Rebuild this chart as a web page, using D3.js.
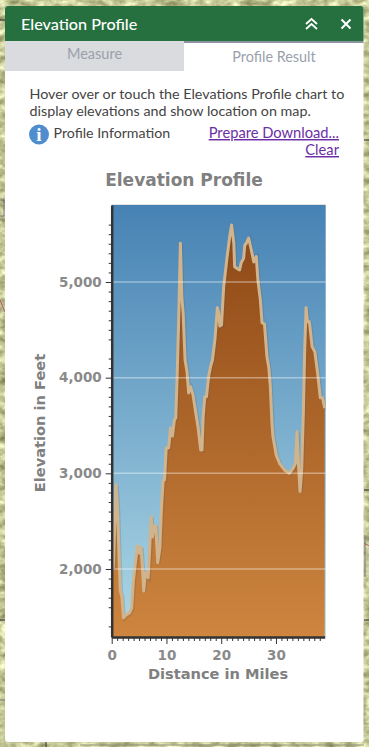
<!DOCTYPE html>
<html>
<head>
<meta charset="utf-8">
<script src="https://d3js.org/d3.v7.min.js"></script>
<style>
    html, body { margin: 0; padding: 0; background: #c8c79c; overflow: hidden; }
    svg { display: block; }
    .ui { font-family: Lato, sans-serif; }
    .chart-text { font-family: "DejaVu Sans", sans-serif; font-weight: bold; fill: #808080; }
    .axis path, .axis line { stroke: #333; }
    .axis text { font-family: "DejaVu Sans", sans-serif; font-weight: bold; font-size: 13.5px; fill: #8a8a8a; }
</style>
</head>
<body>
<svg id="panel" width="369" height="747"></svg>
<script>
const miles = [0, 0.3, 0.8, 1.05, 1.55, 1.85, 2.15, 2.65, 3.25, 3.65, 3.95, 4.25, 4.7, 5.05, 5.35, 5.6, 5.85, 6.15, 6.65, 6.9,
    7.2, 7.45, 7.75, 8.05, 8.4, 8.8, 9.1, 9.4, 9.65, 9.95, 10.4, 10.75, 11.1, 11.45, 11.7, 11.95, 12.25, 12.55, 12.8, 13.05,
    13.4, 13.75, 14.05, 14.4, 14.85, 15.35, 15.75, 16.25, 16.5, 16.7, 17, 17.3, 17.7, 18.05, 18.4, 18.85, 19.3, 19.55, 19.75, 20.05,
    20.45, 20.8, 21.05, 21.55, 21.9, 22.3, 22.45, 23.05, 23.35, 23.65, 24.1, 24.3, 24.6, 25, 25.5, 25.95, 26.4, 26.7, 27.15, 27.45,
    27.9, 28.35, 28.7, 28.95, 29.3, 29.45, 30.05, 30.65, 31.55, 32.45, 33.15, 33.55, 33.85, 34.1, 34.4, 34.7, 35, 35.25, 35.5, 35.75,
    36.1, 36.6, 37.1, 37.6, 38.1, 38.5, 38.9];
const elevations = [2020, 2020, 2880, 2650, 1780, 1710, 1490, 1520, 1540, 1590, 1870, 2025, 2240, 2165, 2230, 2025, 1770, 1960, 1910, 2165,
    2545, 2335, 2450, 2450, 2065, 2220, 2650, 2930, 2930, 3265, 3265, 3475, 3390, 3560, 3580, 4010, 4640, 5405, 4845, 4675,
    4185, 4065, 3840, 3905, 3820, 3630, 3490, 3245, 3245, 3590, 3800, 3800, 4010, 4115, 4185, 4395, 4730, 4675, 4540, 4550,
    4950, 5125, 5250, 5475, 5595, 5405, 5160, 5135, 5125, 5200, 5250, 5385, 5405, 5460, 5335, 5210, 5265, 5020, 4810, 4575,
    4560, 4220, 4100, 3925, 3490, 3385, 3190, 3105, 3035, 3000, 3055, 3105, 3435, 3105, 2810, 3035, 3630, 4290, 4730, 4585,
    4585, 4325, 4270, 4050, 3790, 3790, 3680];
const yTicks = [2000, 3000, 4000, 5000];
const xTicks = [0, 10, 20, 30];
const yMinorSkipped = [1500, 4300];

const chart = { left: 111.7, right: 324.7, top: 205, bottom: 637 };

const svg = d3.select("#panel");
const defs = svg.append("defs");

// map behind the panel, one noise channel so it stays khaki
const mapFilter = defs.append("filter").attr("id", "mapTexture")
    .attr("x", 0).attr("y", 0).attr("width", "100%").attr("height", "100%")
    .attr("color-interpolation-filters", "sRGB");
mapFilter.append("feTurbulence").attr("type", "fractalNoise").attr("baseFrequency", "0.09 0.14").attr("numOctaves", 3).attr("seed", 11);
mapFilter.append("feColorMatrix").attr("values", "0.7 0 0 0 0.42  0.7 0 0 0 0.43  0.7 0 0 0 0.24  0 0 0 0 1");
svg.append("rect").attr("width", 369).attr("height", 747).attr("filter", "url(#mapTexture)");

const mapLines = [
    ["M0 20H5", "#222"], ["M0 200H4V216H0", "#777"], ["M0 300L5 312", "#b9586a"], ["M0 620H5", "#222"], ["M0 700H5", "#777"],
    ["M364 140H369", "#222"], ["M364 490H369", "#222"], ["M364 620H369", "#222"],
    ["M364 543L369 546", "#c0525a"], ["M365 535V577", "#777"], ["M46 742V747", "#222"], ["M80 745H364", "#8a8a78"]
];
svg.selectAll(".map-line").data(mapLines).enter().append("path")
    .attr("class", "map-line")
    .attr("d", d => d[0])
    .attr("fill", "none")
    .attr("stroke", d => d[1]);

// panel
svg.append("rect").attr("x", 5).attr("y", 6).attr("width", 358.5).attr("height", 736).attr("rx", 3).attr("fill", "white");
svg.append("path").attr("d", "M5 41V9a3 3 0 0 1 3-3H360.5a3 3 0 0 1 3 3V41Z").attr("fill", "#26703f");
svg.append("rect").attr("x", 5).attr("y", 41).attr("width", 179).attr("height", 30).attr("fill", "#d9dbde");
svg.append("rect").attr("x", 184).attr("y", 41).attr("width", 179.5).attr("height", 2).attr("fill", "#8a939f");

svg.append("text").attr("class", "ui").attr("x", 21).attr("y", 29.5)
    .attr("font-size", 16.2).attr("fill", "white").attr("font-weight", 500).text("Elevation Profile");
svg.append("path").attr("d", "M306 24l5.5-5 5.5 5M306 29l5.500-5 5.5 5").attr("fill", "none").attr("stroke", "white").attr("stroke-width", 1.8);
svg.append("path").attr("d", "M341.5 19.5l9 9M350.5 19.5l-9 9").attr("fill", "none").attr("stroke", "white").attr("stroke-width", 2);

svg.append("text").attr("class", "ui").attr("x", 94.5).attr("y", 59).attr("text-anchor", "middle")
    .attr("font-size", 14.5).attr("fill", "#9aa1ab").text("Measure");
svg.append("text").attr("class", "ui").attr("x", 274).attr("y", 62).attr("text-anchor", "middle")
    .attr("font-size", 14.4).attr("fill", "#9aa1ab").text("Profile Result");

const bodyLines = [
    ["Hover over or touch the Elevations Profile chart to", 99],
    ["display elevations and show location on map.", 116]
];
svg.selectAll(".body-line").data(bodyLines).enter().append("text")
    .attr("class", "ui body-line")
    .attr("x", 29.5)
    .attr("y", d => d[1])
    .attr("font-size", 14.3)
    .attr("fill", "#444")
    .text(d => d[0]);

svg.append("circle").attr("cx", 39).attr("cy", 134.5).attr("r", 10).attr("fill", "#4f8dcf");
svg.append("text").attr("x", 39).attr("y", 141).attr("text-anchor", "middle")
    .attr("font-family", "Liberation Serif").attr("font-weight", "bold").attr("font-size", 19).attr("fill", "white").text("i");
svg.append("text").attr("class", "ui").attr("x", 53.5).attr("y", 138)
    .attr("font-size", 14.2).attr("fill", "#444").text("Profile Information");

const links = [["Prepare Download...", 138], ["Clear", 155]];
svg.selectAll(".link").data(links).enter().append("text")
    .attr("class", "ui link")
    .attr("x", 339)
    .attr("y", d => d[1])
    .attr("text-anchor", "end")
    .attr("font-size", 14.7)
    .attr("fill", "#6b2fa5")
    .style("text-decoration", "underline")
    .text(d => d[0]);

// chart
const xScale = d3.scaleLinear().domain([0, 38.9]).range([chart.left, chart.right]);
const yScale = d3.scaleLinear().domain([1289, 5805]).range([chart.bottom, chart.top]);

const skyGradient = defs.append("linearGradient").attr("id", "sky").attr("gradientUnits", "userSpaceOnUse")
    .attr("x1", 0).attr("x2", 0).attr("y1", chart.top).attr("y2", chart.bottom);
skyGradient.append("stop").attr("offset", 0).attr("stop-color", "#4682b4");
skyGradient.append("stop").attr("offset", 1).attr("stop-color", "#add8e6");

const landGradient = defs.append("linearGradient").attr("id", "land").attr("gradientUnits", "userSpaceOnUse")
    .attr("x1", 0).attr("x2", 0).attr("y1", chart.top).attr("y2", chart.bottom);
landGradient.append("stop").attr("offset", 0).attr("stop-color", "#8b4513");
landGradient.append("stop").attr("offset", 1).attr("stop-color", "#cd853f");

defs.append("clipPath").attr("id", "plotClip").append("rect")
    .attr("x", chart.left).attr("y", chart.top).attr("width", chart.right - chart.left + 1).attr("height", chart.bottom - chart.top);

svg.append("rect")
    .attr("x", chart.left).attr("y", chart.top)
    .attr("width", chart.right - chart.left + 1).attr("height", chart.bottom - chart.top)
    .attr("fill", "url(#sky)");
svg.append("line")
    .attr("x1", chart.left).attr("x2", chart.right + 1).attr("y1", chart.top - 0.5).attr("y2", chart.top - 0.5)
    .attr("stroke", "#e2e2e2");

const profile = d3.range(miles.length).map(i => ({ mile: miles[i], elevation: elevations[i] }));

const plot = svg.append("g").attr("clip-path", "url(#plotClip)");

plot.append("path").datum(profile)
    .attr("fill", "url(#land)")
    .attr("d", d3.area().x(d => xScale(d.mile)).y0(chart.bottom).y1(d => yScale(d.elevation)));

// soft shadow on the right of the line
plot.append("path").datum(profile)
    .attr("fill", "none")
    .attr("stroke", "#555")
    .attr("stroke-opacity", 0.22)
    .attr("stroke-width", 3)
    .attr("transform", "translate(1.2,1)")
    .attr("d", d3.line().x(d => xScale(d.mile)).y(d => yScale(d.elevation)));

plot.append("path").datum(profile)
    .attr("fill", "none")
    .attr("stroke", "#d2b48c")
    .attr("stroke-width", 3)
    .attr("stroke-linejoin", "round")
    .attr("d", d3.line().x(d => xScale(d.mile)).y(d => yScale(d.elevation)));

svg.selectAll(".grid-line").data(yTicks).enter().append("line")
    .attr("class", "grid-line")
    .attr("x1", chart.left)
    .attr("x2", chart.right + 1)
    .attr("y1", d => yScale(d))
    .attr("y2", d => yScale(d))
    .attr("stroke", "white")
    .attr("stroke-opacity", 0.4)
    .attr("stroke-width", 1.5);

// axes
const yMinor = d3.range(1400, 5700, 100).filter(d => !yTicks.includes(d) && !yMinorSkipped.includes(d));
const xMinor = d3.range(1, 39).filter(d => !xTicks.includes(d));

svg.append("g").attr("class", "axis")
    .attr("transform", `translate(${chart.left},0)`)
    .call(d3.axisLeft(yScale).tickValues(yMinor).tickSize(3).tickFormat("").tickSizeOuter(0))
    .select(".domain").attr("stroke-width", 2.5);
svg.append("g").attr("class", "axis")
    .attr("transform", `translate(${chart.left},0)`)
    .call(d3.axisLeft(yScale).tickValues(yTicks).tickSize(6).tickPadding(4).tickFormat(d3.format(",")).tickSizeOuter(0))
    .select(".domain").remove();

svg.append("g").attr("class", "axis")
    .attr("transform", `translate(0,${chart.bottom})`)
    .call(d3.axisBottom(xScale).tickValues(xMinor).tickSize(4).tickFormat("").tickSizeOuter(0))
    .select(".domain").attr("stroke-width", 2.5);
svg.append("g").attr("class", "axis")
    .attr("transform", `translate(0,${chart.bottom})`)
    .call(d3.axisBottom(xScale).tickValues(xTicks).tickSize(7).tickPadding(6).tickFormat(d3.format("d")).tickSizeOuter(0))
    .select(".domain").remove();

svg.append("text").attr("class", "chart-text")
    .attr("x", 184).attr("y", 185.5).attr("text-anchor", "middle").attr("font-size", 17)
    .text("Elevation Profile");
svg.append("text").attr("class", "chart-text")
    .attr("x", 218).attr("y", 679).attr("text-anchor", "middle").attr("font-size", 14.6)
    .text("Distance in Miles");
svg.append("text").attr("class", "chart-text")
    .attr("transform", "translate(45,423) rotate(-90)").attr("text-anchor", "middle").attr("font-size", 14.6)
    .text("Elevation in Feet");
</script>
</body>
</html>
